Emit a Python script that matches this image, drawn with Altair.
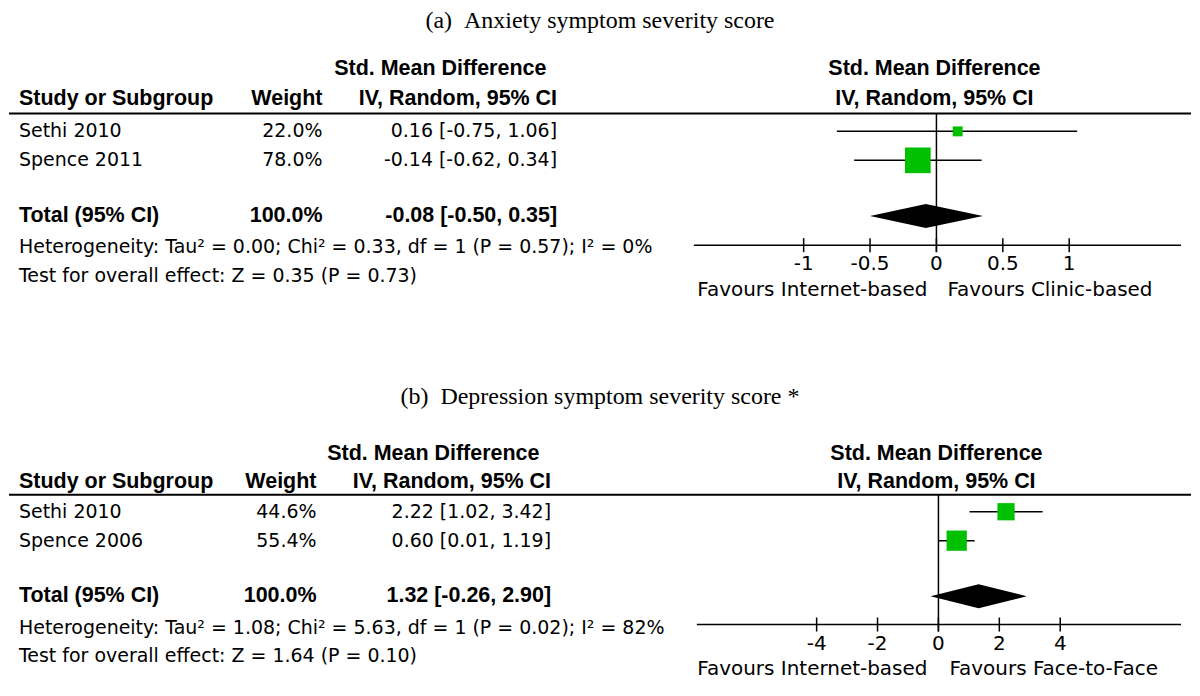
import altair as alt
import pandas as pd

# ---------------- data: panel (a) ----------------
A_TITLE = "(a)\u00a0\u00a0Anxiety symptom severity score"
A_STUDIES = ["Sethi 2010", "Spence 2011"]
A_WEIGHTS = [22.0, 78.0]
A_EST = [0.16, -0.14]
A_LO = [-0.75, -0.62]
A_HI = [1.06, 0.34]
A_TOTAL = [-0.08, -0.50, 0.35]  # estimate, lower, upper
A_HET = "Heterogeneity: Tau\u00b2 = 0.00; Chi\u00b2 = 0.33, df = 1 (P = 0.57); I\u00b2 = 0%"
A_TEST = "Test for overall effect: Z = 0.35 (P = 0.73)"
A_TICKS = [-1, -0.5, 0, 0.5, 1]
A_TICK_LABELS = ["-1", "-0.5", "0", "0.5", "1"]
A_FAV = ["Favours Internet-based", "Favours Clinic-based"]

# ---------------- data: panel (b) ----------------
B_TITLE = "(b)\u00a0\u00a0Depression symptom severity score *"
B_STUDIES = ["Sethi 2010", "Spence 2006"]
B_WEIGHTS = [44.6, 55.4]
B_EST = [2.22, 0.60]
B_LO = [1.02, 0.01]
B_HI = [3.42, 1.19]
B_TOTAL = [1.32, -0.26, 2.90]
B_HET = "Heterogeneity: Tau\u00b2 = 1.08; Chi\u00b2 = 5.63, df = 1 (P = 0.02); I\u00b2 = 82%"
B_TEST = "Test for overall effect: Z = 1.64 (P = 0.10)"
B_TICKS = [-4, -2, 0, 2, 4]
B_TICK_LABELS = ["-4", "-2", "0", "2", "4"]
B_FAV = ["Favours Internet-based", "Favours Face-to-Face"]

HEAD_STD = "Std. Mean Difference"
HEAD_IV = "IV, Random, 95% CI"
HEAD_STUDY = "Study or Subgroup"
HEAD_WEIGHT = "Weight"
HEAD_TOTAL = "Total (95% CI)"

# ---------------- layout / style ----------------
W = 1184
H = 340
GREEN = "#00c000"
REG = "DejaVu Sans"
REG_SIZE = 19
AX_SIZE = 20
BOLD = "Liberation Sans"
BOLD_SIZE = 21.5
SERIF = "Liberation Serif"
SERIF_SIZE = 24

LAYOUT_A = dict(title_y=10, hdr1_y=59, hdr2_y=89, line_y=103, row0=121, step=29,
                axis_y=235, tick_top=228, tick_bot=242, ticklab_y=254, fav_y=280,
                zero_top=103, ax_x0=686, ax_x1=1174, xdomain=[-1, 1], xrange=[796, 1062],
                weight_right=314, ci_right=549, smd_center=432, right_center=927,
                size_max=960, fav_dx=(-9, 11))
LAYOUT_B = dict(title_y=47, hdr1_y=104, hdr2_y=132, line_y=145, row0=162, step=29,
                axis_y=275, tick_top=268, tick_bot=282, ticklab_y=295, fav_y=320,
                zero_top=145, ax_x0=689, ax_x1=1174, xdomain=[-4, 4], xrange=[809, 1053],
                weight_right=308, ci_right=543, smd_center=425, right_center=929,
                size_max=1000, fav_dx=(-11, 11))

ONE = pd.DataFrame({"k": [0]})


def fmt_ci(e, l, h):
    return f"{e:.2f} [{l:.2f}, {h:.2f}]"


def txt(text, x, y, font=REG, size=REG_SIZE, bold=False, align="left"):
    return alt.Chart(ONE).mark_text(
        text=text, font=font, fontSize=size, fontWeight="bold" if bold else "normal",
        align=align, baseline="middle", color="black"
    ).encode(x=x, y=y)


def panel(L, title, studies, weights, est, lo, hi, total, het, test, ticks, tick_labels, fav):
    xs = alt.Scale(domain=L["xdomain"], range=L["xrange"], nice=False, zero=False)
    ys = alt.Scale(domain=[0, 5], range=[L["row0"], L["row0"] + 5 * L["step"]], nice=False, zero=False)
    n = len(studies)
    trow = n + 0.92
    rows = pd.DataFrame({
        "study": studies,
        "weight": [f"{w:.1f}%" for w in weights],
        "w": weights,
        "est": est, "lo": lo, "hi": hi,
        "ci": [fmt_ci(e, l, h) for e, l, h in zip(est, lo, hi)],
        "row": list(range(n)),
    })
    half = 12 / L["step"]
    diamond = pd.DataFrame({
        "x": [total[1], total[0], total[2]],
        "ya": [trow, trow - half, trow],
        "yb": [trow, trow + half, trow],
    })
    tickdf = pd.DataFrame({"tick": ticks, "label": tick_labels})

    X = lambda f: alt.X(f, scale=xs, axis=None)
    Y = lambda f: alt.Y(f, scale=ys, axis=None)
    base = alt.Chart(rows)

    layers = [
        # title
        txt(title, alt.value(W / 2), alt.value(L["title_y"]), font=SERIF, size=SERIF_SIZE, align="center"),
        # table headers
        txt(HEAD_STD, alt.value(L["smd_center"]), alt.value(L["hdr1_y"]), font=BOLD, size=BOLD_SIZE, bold=True, align="center"),
        txt(HEAD_STUDY, alt.value(10), alt.value(L["hdr2_y"]), font=BOLD, size=BOLD_SIZE, bold=True),
        txt(HEAD_WEIGHT, alt.value(L["weight_right"]), alt.value(L["hdr2_y"]), font=BOLD, size=BOLD_SIZE, bold=True, align="right"),
        txt(HEAD_IV, alt.value(L["ci_right"]), alt.value(L["hdr2_y"]), font=BOLD, size=BOLD_SIZE, bold=True, align="right"),
        txt(HEAD_STD, alt.value(L["right_center"]), alt.value(L["hdr1_y"]), font=BOLD, size=BOLD_SIZE, bold=True, align="center"),
        txt(HEAD_IV, alt.value(L["right_center"]), alt.value(L["hdr2_y"]), font=BOLD, size=BOLD_SIZE, bold=True, align="center"),
        # header rule
        alt.Chart(ONE).mark_rule(color="black", strokeWidth=2).encode(
            x=alt.value(0), x2=alt.value(W), y=alt.value(L["line_y"])),
        # study rows
        base.mark_text(font=REG, fontSize=REG_SIZE, align="left", baseline="middle", color="black").encode(
            x=alt.value(10), y=Y("row:Q"), text="study:N"),
        base.mark_text(font=REG, fontSize=REG_SIZE, align="right", baseline="middle", color="black").encode(
            x=alt.value(L["weight_right"]), y=Y("row:Q"), text="weight:N"),
        base.mark_text(font=REG, fontSize=REG_SIZE, align="right", baseline="middle", color="black").encode(
            x=alt.value(L["ci_right"]), y=Y("row:Q"), text="ci:N"),
        # total row
        txt(HEAD_TOTAL, alt.value(10), alt.Y(datum=trow, scale=ys, axis=None), font=BOLD, size=BOLD_SIZE, bold=True),
        txt(f"{sum(weights):.1f}%", alt.value(L["weight_right"]), alt.Y(datum=trow, scale=ys, axis=None),
            font=BOLD, size=BOLD_SIZE, bold=True, align="right"),
        txt(fmt_ci(*total), alt.value(L["ci_right"]), alt.Y(datum=trow, scale=ys, axis=None),
            font=BOLD, size=BOLD_SIZE, bold=True, align="right"),
        txt(het, alt.value(10), alt.Y(datum=n + 2, scale=ys, axis=None)),
        txt(test, alt.value(10), alt.Y(datum=n + 3, scale=ys, axis=None)),
        # zero line
        alt.Chart(ONE).mark_rule(color="black", strokeWidth=1.5).encode(
            x=alt.X(datum=0, scale=xs, axis=None), y=alt.value(L["zero_top"]), y2=alt.value(L["tick_bot"])),
        # x axis line, ticks, labels
        alt.Chart(ONE).mark_rule(color="black", strokeWidth=1.5).encode(
            x=alt.value(L["ax_x0"]), x2=alt.value(L["ax_x1"]), y=alt.value(L["axis_y"])),
        alt.Chart(tickdf).mark_rule(color="black", strokeWidth=1.5).encode(
            x=X("tick:Q"), y=alt.value(L["tick_top"]), y2=alt.value(L["tick_bot"])),
        alt.Chart(tickdf).mark_text(font=REG, fontSize=AX_SIZE, align="center", baseline="middle", color="black").encode(
            x=X("tick:Q"), y=alt.value(L["ticklab_y"]), text="label:N"),
        alt.Chart(ONE).mark_text(text=fav[0], font=REG, fontSize=AX_SIZE, align="right", baseline="middle",
                                 dx=L["fav_dx"][0], color="black").encode(
            x=alt.X(datum=0, scale=xs, axis=None), y=alt.value(L["fav_y"])),
        alt.Chart(ONE).mark_text(text=fav[1], font=REG, fontSize=AX_SIZE, align="left", baseline="middle",
                                 dx=L["fav_dx"][1], color="black").encode(
            x=alt.X(datum=0, scale=xs, axis=None), y=alt.value(L["fav_y"])),
        # CI lines and squares
        base.mark_rule(color="black", strokeWidth=1.5).encode(x=X("lo:Q"), x2="hi:Q", y=Y("row:Q")),
        base.mark_square(color=GREEN, opacity=1, filled=True).encode(
            x=X("est:Q"), y=Y("row:Q"),
            size=alt.Size("w:Q", scale=alt.Scale(type="pow", exponent=1.5, domain=[0, 100],
                                                 range=[0, L["size_max"]]), legend=None)),
        # pooled diamond
        alt.Chart(diamond).mark_area(color="black", opacity=1).encode(
            x=X("x:Q"), y=Y("ya:Q"), y2="yb:Q"),
    ]
    return alt.layer(*layers).properties(width=W, height=H)


top = panel(LAYOUT_A, A_TITLE, A_STUDIES, A_WEIGHTS, A_EST, A_LO, A_HI, A_TOTAL, A_HET, A_TEST,
            A_TICKS, A_TICK_LABELS, A_FAV)
bottom = panel(LAYOUT_B, B_TITLE, B_STUDIES, B_WEIGHTS, B_EST, B_LO, B_HI, B_TOTAL, B_HET, B_TEST,
               B_TICKS, B_TICK_LABELS, B_FAV)

chart = alt.vconcat(top, bottom, spacing=0, padding=0).resolve_scale(
    x="independent", y="independent", size="independent"
).configure_view(strokeWidth=0)

chart.save("out.html", embed_options={"renderer": "svg", "actions": False})
